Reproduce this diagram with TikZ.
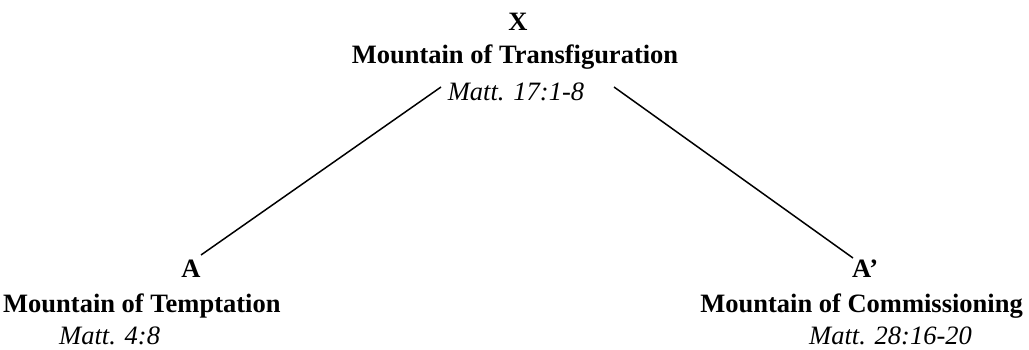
\documentclass[tikz,border=0pt]{standalone}
\usepackage{fontspec}
\setmainfont{Liberation Serif}
\tikzset{
  lbl/.style={inner sep=0pt, font=\fontsize{26.5}{30}\selectfont},
  bld/.style={lbl, font=\fontsize{26.5}{30}\selectfont\bfseries},
  itl/.style={lbl, font=\fontsize{26.5}{30}\selectfont\itshape},
  conn/.style={line width=1.5pt, black}
}
\begin{document}
\begin{tikzpicture}[x=1pt,y=1pt]
\useasboundingbox (0,0) rectangle (1029,349);
% top
\node[bld, anchor=base] (x) at (518,318) {X};
\node[bld, anchor=base] (xt) at (515,286) {Mountain of Transfiguration};
\node[itl, anchor=base] (xr) at (516,249) {Matt. 17:1-8};
% left
\node[bld, anchor=base] (a) at (191,72) {A};
\node[bld, anchor=base west] (at) at (3,37) {Mountain of Temptation};
\node[itl, anchor=base west] (ar) at (59,5) {Matt. 4:8};
% right
\node[bld, anchor=base west] (b) at (852,72) {A’};
\node[bld, anchor=base east] (bt) at (1023,37) {Mountain of Commissioning};
\node[itl, anchor=base west] (br) at (809,5) {Matt. 28:16-20};
% connectors
\coordinate (la) at (201,94);
\coordinate (lx) at (441,262);
\coordinate (rx) at (614,262);
\coordinate (rb) at (853,91);
\draw[conn] (la) -- (lx);
\draw[conn] (rx) -- (rb);
\end{tikzpicture}
\end{document}
